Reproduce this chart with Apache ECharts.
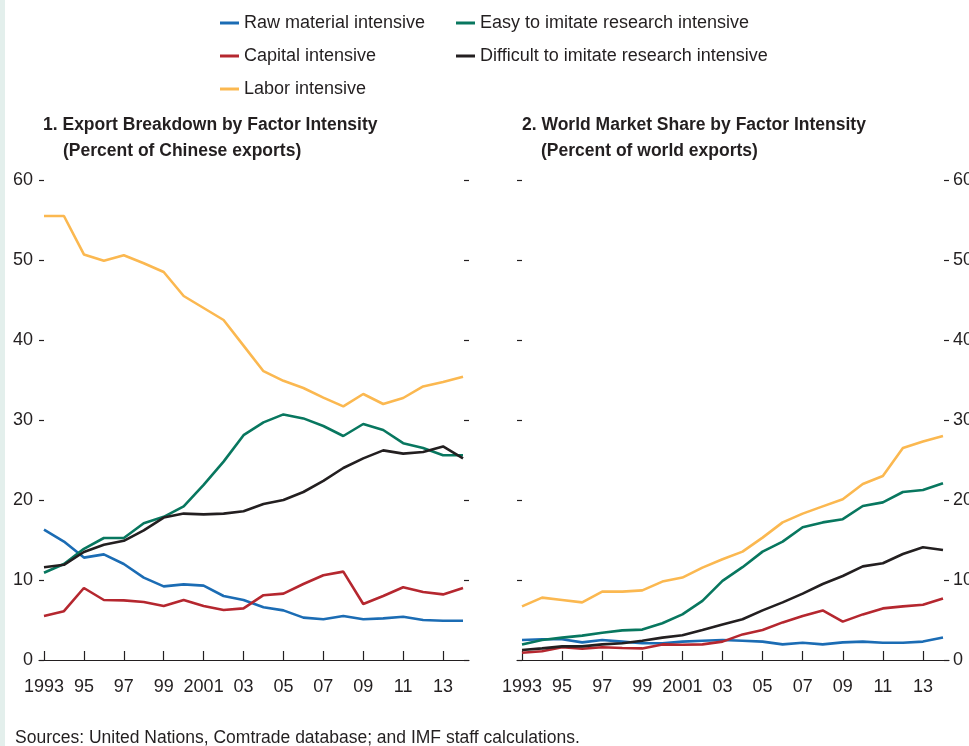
<!DOCTYPE html>
<html>
<head>
<meta charset="utf-8">
<script src="https://cdn.jsdelivr.net/npm/echarts@6/dist/echarts.min.js"></script>
<style>
html,body{margin:0;padding:0;background:#fff;}
#chart{width:969px;height:746px;}
</style>
</head>
<body>
<div id="chart"></div>
<script>
var years = [1993,1994,1995,1996,1997,1998,1999,2000,2001,2002,2003,2004,2005,2006,2007,2008,2009,2010,2011,2012,2013,2014];
var tickYears = [1993,1995,1997,1999,2001,2003,2005,2007,2009,2011,2013];
var tickLabels = ['1993','95','97','99','2001','03','05','07','09','11','13'];
var seriesNames = ['Raw material intensive','Capital intensive','Labor intensive','Easy to imitate research intensive','Difficult to imitate research intensive'];

// Panel 1: Export breakdown (percent of Chinese exports)
var p1Raw = [16.3,14.8,12.8,13.2,12.0,10.3,9.2,9.45,9.3,8.0,7.5,6.6,6.2,5.3,5.1,5.5,5.1,5.2,5.4,5.0,4.9,4.9];
var p1Capital = [5.5,6.1,9.0,7.5,7.45,7.25,6.75,7.5,6.75,6.25,6.45,8.1,8.3,9.5,10.6,11.05,7.0,8.0,9.1,8.5,8.2,9.0];
var p1Labor = [55.5,55.5,50.7,49.9,50.6,49.6,48.5,45.5,44.0,42.5,39.3,36.1,34.9,34.0,32.8,31.7,33.25,32.0,32.75,34.2,34.75,35.4];
var p1Easy = [10.9,12.0,13.9,15.25,15.25,17.1,17.9,19.2,21.9,24.8,28.1,29.7,30.7,30.2,29.25,28.0,29.5,28.75,27.1,26.5,25.6,25.6];
var p1Difficult = [11.6,11.9,13.5,14.4,14.9,16.2,17.8,18.3,18.2,18.3,18.6,19.5,20.0,21.0,22.4,24.0,25.2,26.2,25.8,26.0,26.7,25.2];

// Panel 2: World market share (percent of world exports)
var p2Raw = [2.5,2.6,2.6,2.2,2.5,2.3,2.1,2.1,2.3,2.4,2.5,2.4,2.3,1.95,2.15,1.95,2.2,2.3,2.15,2.15,2.3,2.8];
var p2Capital = [0.9,1.1,1.6,1.4,1.6,1.5,1.45,1.95,1.9,1.95,2.3,3.2,3.75,4.7,5.5,6.2,4.8,5.7,6.45,6.7,6.9,7.7];
var p2Labor = [6.7,7.8,7.5,7.2,8.55,8.55,8.7,9.8,10.3,11.55,12.6,13.55,15.3,17.2,18.3,19.2,20.1,22.0,23.0,26.5,27.3,28.0];
var p2Easy = [1.95,2.5,2.8,3.05,3.4,3.7,3.8,4.6,5.7,7.4,9.9,11.6,13.55,14.8,16.6,17.2,17.6,19.25,19.7,21.0,21.25,22.1];
var p2Difficult = [1.25,1.45,1.7,1.7,1.95,2.1,2.4,2.8,3.1,3.75,4.45,5.1,6.2,7.2,8.3,9.5,10.5,11.7,12.1,13.25,14.1,13.75];

var colors = ['#1b6cb4','#b5272f','#fbb850','#08775f','#231f20'];
var FONT = '"Liberation Sans Narrow","Arial Narrow","Liberation Sans",Arial,sans-serif';
var TXT = '#231f20';

function pairs(vals){ return years.map(function(y,i){ return [y, vals[i]]; }); }

var panel1 = [p1Raw,p1Capital,p1Labor,p1Easy,p1Difficult];
var panel2 = [p2Raw,p2Capital,p2Labor,p2Easy,p2Difficult];

var series = [];
[panel1, panel2].forEach(function(panel, gi){
  panel.forEach(function(vals, si){
    series.push({
      name: seriesNames[si], type:'line', xAxisIndex: gi, yAxisIndex: gi*2,
      data: pairs(vals), symbol:'none', smooth:false,
      lineStyle:{width:2.6, color: colors[si]}, itemStyle:{color: colors[si]},
      z: 2 + si
    });
  });
});

function xAxis(gi){
  return {
    type:'value', gridIndex: gi, min:1992.75, max:2014.3,
    axisLine:{show:true, lineStyle:{color:TXT, width:1.2}},
    axisTick:{show:true, inside:true, length:9, customValues: tickYears, lineStyle:{color:TXT, width:1.2}},
    axisLabel:{show:true, customValues: tickYears, margin:18, color:TXT, fontFamily:FONT, fontSize:18,
      formatter:function(v){ var i = tickYears.indexOf(Math.round(v)); return i>=0 ? tickLabels[i] : ''; }},
    splitLine:{show:false}
  };
}
function yAxis(gi, pos, labels){
  return {
    type:'value', gridIndex: gi, position: pos, min:0, max:60, interval:10,
    axisLine:{show:false},
    axisTick:{show:true, inside:true, length:5, lineStyle:{color:TXT, width:1.2}},
    axisLabel:{show:labels, margin: pos==='left'?6:4, color:TXT, fontFamily:FONT, fontSize:18},
    splitLine:{show:false}
  };
}

var option = {
  animation:false,
  backgroundColor:'#ffffff',
  color: colors,
  graphic:[
    {type:'rect', left:0, top:0, shape:{x:0,y:0,width:5,height:746}, style:{fill:'#e3efec'}, silent:true},
    {type:'text', left:15, top:729, style:{text:'Sources: United Nations, Comtrade database; and IMF staff calculations.', fill:TXT, font:'17.5px '+FONT}}
  ],
  title:[
    {text:'1. Export Breakdown by Factor Intensity', left:43, top:116, padding:0,
     textStyle:{fontFamily:FONT, fontWeight:'bold', fontSize:17.5, color:TXT}},
    {text:'(Percent of Chinese exports)', left:63, top:142, padding:0,
     textStyle:{fontFamily:FONT, fontWeight:'bold', fontSize:17.5, color:TXT}},
    {text:'2. World Market Share by Factor Intensity', left:522, top:116, padding:0,
     textStyle:{fontFamily:FONT, fontWeight:'bold', fontSize:17.5, color:TXT}},
    {text:'(Percent of world exports)', left:541, top:142, padding:0,
     textStyle:{fontFamily:FONT, fontWeight:'bold', fontSize:17.5, color:TXT}}
  ],
  legend:[
    {data:[seriesNames[0],seriesNames[1],seriesNames[2]], orient:'vertical', left:220, top:13, padding:0,
     icon:'rect', itemWidth:19, itemHeight:3, itemGap:13,
     textStyle:{fontFamily:FONT, fontSize:18, color:TXT, lineHeight:20}},
    {data:[seriesNames[3],seriesNames[4]], orient:'vertical', left:456, top:13, padding:0,
     icon:'rect', itemWidth:19, itemHeight:3, itemGap:13,
     textStyle:{fontFamily:FONT, fontSize:18, color:TXT, lineHeight:20}}
  ],
  grid:[
    {left:39, top:180, width:430, height:480, containLabel:false, outerBoundsMode:'none'},
    {left:517, top:180, width:432, height:480, containLabel:false, outerBoundsMode:'none'}
  ],
  xAxis:[xAxis(0), xAxis(1)],
  yAxis:[yAxis(0,'left',true), yAxis(0,'right',false), yAxis(1,'left',false), yAxis(1,'right',true)],
  series: series
};

var chart = echarts.init(document.getElementById('chart'), null, {renderer:'canvas'});
chart.setOption(option);
</script>
</body>
</html>
